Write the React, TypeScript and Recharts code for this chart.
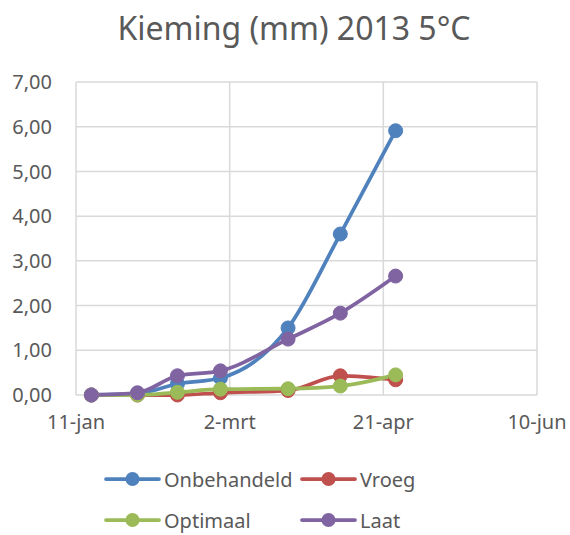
import React from "react";
import { LineChart, Line, XAxis, YAxis, CartesianGrid } from "recharts";

// Measuring days, counted from 11 January 2013
const meetdagen = [5, 20, 33, 47, 69, 86, 104];

// Sprout length (mm) per treatment
const onbehandeld = [0, 0.03, 0.25, 0.38, 1.5, 3.6, 5.91];
const vroeg = [0, 0, 0, 0.05, 0.1, 0.43, 0.34];
const optimaal = [0, 0, 0.06, 0.13, 0.14, 0.2, 0.45];
const laat = [0, 0.05, 0.43, 0.54, 1.25, 1.83, 2.66];

// X-axis ticks (days since 11 January) and their labels
const xTicks = [0, 50, 100, 150];
const xTickLabels = ["11-jan", "2-mrt", "21-apr", "10-jun"];
const yTicks = [0, 1, 2, 3, 4, 5, 6, 7];

const series = [
  { key: "onbehandeld", name: "Onbehandeld", color: "#4F81BD", values: onbehandeld },
  { key: "vroeg", name: "Vroeg", color: "#C0504D", values: vroeg },
  { key: "optimaal", name: "Optimaal", color: "#9BBB59", values: optimaal },
  { key: "laat", name: "Laat", color: "#8064A2", values: laat },
];

const data = meetdagen.map((dag, i) => {
  const row: Record<string, number> = { dag };
  series.forEach((s) => {
    row[s.key] = s.values[i];
  });
  return row;
});

const FONT = "'Noto Sans', 'Open Sans', sans-serif";
const TEXT = "#595959";

const fmtY = (v: number) => v.toFixed(2).replace(".", ",");
const fmtX = (v: number) => xTickLabels[xTicks.indexOf(v)] ?? "";

// Legend laid out in two columns and two rows
const legendCols = [106, 302];
const legendRows = [479, 520];

export default function App() {
  return (
    <div style={{ position: "absolute", left: 0, top: 0, width: 570, height: 535, background: "#fff" }}>
      <LineChart
        width={570}
        height={535}
        data={data}
        margin={{ top: 82, right: 33, left: 0, bottom: 100 }}
        style={{ fontFamily: FONT }}
      >
        <CartesianGrid stroke="#D9D9D9" strokeWidth={1.5} />
        <XAxis
          dataKey="dag"
          type="number"
          domain={[0, 150]}
          ticks={xTicks}
          tickFormatter={fmtX}
          axisLine={false}
          tickLine={false}
          tickMargin={14}
          height={40}
          interval={0}
          tick={{ fill: TEXT, fontSize: 20, fontFamily: FONT }}
        />
        <YAxis
          type="number"
          domain={[0, 7]}
          ticks={yTicks}
          tickFormatter={fmtY}
          axisLine={false}
          tickLine={false}
          tickMargin={18}
          width={76}
          interval={0}
          tick={{ fill: TEXT, fontSize: 20, fontFamily: FONT }}
        />
        {series.map((s) => (
          <Line
            key={s.key}
            dataKey={s.key}
            name={s.name}
            type="monotone"
            stroke={s.color}
            strokeWidth={3.75}
            dot={{ r: 7, fill: s.color, stroke: s.color, strokeWidth: 1 }}
            activeDot={false}
            isAnimationActive={false}
          />
        ))}
      </LineChart>
      <svg
        width={570}
        height={535}
        style={{ position: "absolute", left: 0, top: 0, pointerEvents: "none" }}
      >
        <text
          x={294}
          y={40}
          textAnchor="middle"
          fill={TEXT}
          fontSize={32}
          fontFamily={FONT}
        >
          Kieming (mm) 2013 5°C
        </text>
        {series.map((s, i) => {
          const x = legendCols[i % 2];
          const y = legendRows[Math.floor(i / 2)];
          return (
            <g key={s.key}>
              <line x1={x} x2={x + 53} y1={y} y2={y} stroke={s.color} strokeWidth={3.75} strokeLinecap="round" />
              <circle cx={x + 26.5} cy={y} r={7} fill={s.color} />
              <text
                x={x + 58}
                y={y}
                dominantBaseline="central"
                fill={TEXT}
                fontSize={20}
                fontFamily={FONT}
              >
                {s.name}
              </text>
            </g>
          );
        })}
      </svg>
    </div>
  );
}
